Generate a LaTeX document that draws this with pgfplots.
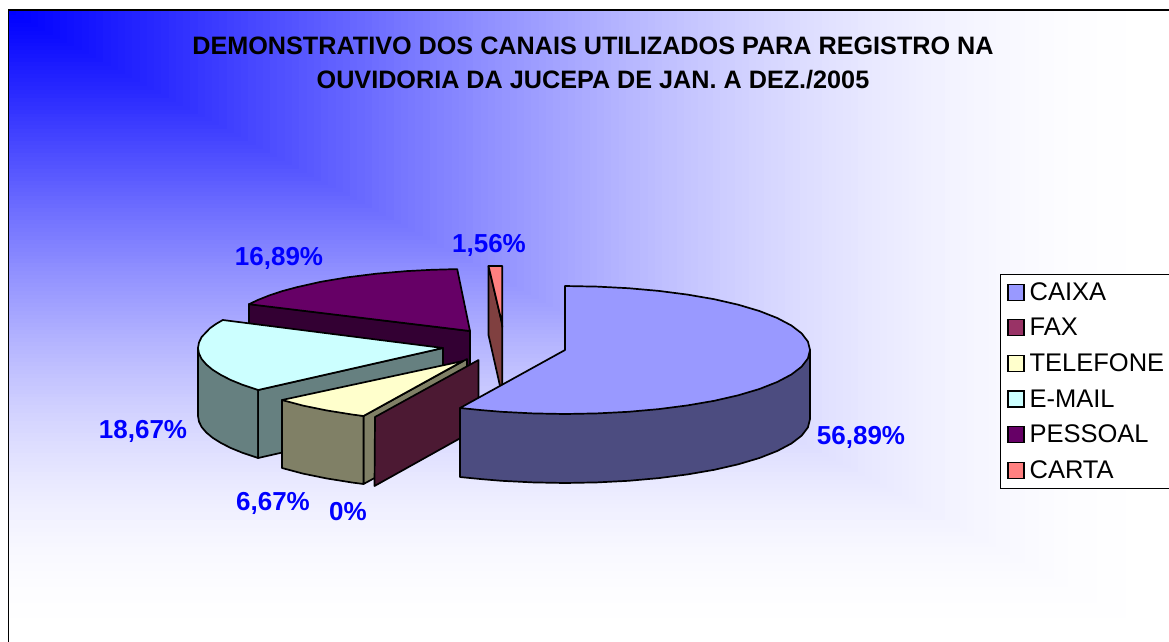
\documentclass[border=0pt]{standalone}
\usepackage{pgfplots}
\usepackage{fontspec}
\setmainfont{Liberation Sans}
\pgfplotsset{compat=1.18}

\definecolor{caixa}{RGB}{153,153,255}
\definecolor{caixaw}{RGB}{76,76,128}
\definecolor{fax}{RGB}{153,51,102}
\definecolor{faxw}{RGB}{76,25,51}
\definecolor{tel}{RGB}{255,255,204}
\definecolor{telw}{RGB}{128,128,102}
\definecolor{mail}{RGB}{204,255,255}
\definecolor{mailw}{RGB}{102,128,128}
\definecolor{pess}{RGB}{102,0,102}
\definecolor{pessw}{RGB}{51,0,51}
\definecolor{carta}{RGB}{255,128,128}
\definecolor{cartaw}{RGB}{128,64,64}
\definecolor{lblue}{RGB}{0,0,255}

\pgfplotsset{
  slice/.style={draw=black, line width=1.7pt, line join=round, fill=#1, forget plot},
}
\tikzset{
  lbl/.style={text=lblue, font=\fontsize{26}{30}\bfseries\selectfont},
}

\begin{document}
\begin{tikzpicture}[x=1pt,y=1pt]
\clip (0,0) rectangle (1169,641);
\fill[white] (0,0) rectangle (1169,641);
% corner gradient of the chart area, painted from the outside in
\foreach \i in {160,159,...,0}{
  \pgfmathsetmacro{\t}{\i/160}
  \pgfmathsetmacro{\v}{100*(max(sin(90*\t),0.0001))^1.15}
  \fill[white!\v!lblue] (9,630) rectangle ({9+1161*\t},{630-631*\t});
}
\draw[black, line width=1.5pt] (8.5,-5) -- (8.5,631) -- (1175,631);

\begin{axis}[
  at={(0,0)}, anchor=south west,
  scale only axis, width=1169pt, height=641pt,
  xmin=0, xmax=1169, ymin=0, ymax=641, y dir=reverse,
  hide axis, clip=false,
  legend style={
    at={(axis cs:1000,273.7)}, anchor=north west,
    draw=black, fill=white, line width=0.8pt,
    inner xsep=7pt, inner ysep=0.3pt,
    font=\fontsize{25.5}{28}\selectfont,
    row sep=0pt, column sep=2pt,
    cells={anchor=west},
    nodes={minimum height=35.6pt, inner ysep=0pt, inner xsep=3pt},
  },
  legend image code/.code={
    \draw[line width=1.2pt, #1] (0pt,-8pt) rectangle (16pt,8pt);
  },
]
% PESSOAL
\addplot[slice=pessw] coordinates {(249,304) (249,372) (470,399) (470,331)} --cycle;
\addplot[slice=pess] coordinates {(470,331) (457.2,269.1) (431.7,269.8) (406.6,271.1) (376.2,273.7) (347.5,277.3) (320.8,281.8) (296.8,287.2) (282.3,291.1) (269.3,295.4) (257.8,300) (249,304.2)} --cycle;
% CARTA
\addplot[slice=cartaw] coordinates {(488.5,266) (501.7,322) (502.3,327) (502.3,386) (500,386) (488.5,335)} --cycle;
\addplot[slice=carta] coordinates {(488.5,266) (502.3,266) (502.3,327) (501.7,322)} --cycle;
% E-MAIL
\addplot[slice=mailw] coordinates {(198,348) (198,416) (199,421.6) (201.7,427.1) (206.4,432.6) (212.8,437.9) (221,443) (230.8,448) (242.3,452.7) (258.1,458) (258.1,390)} --cycle;
\addplot[slice=mailw] coordinates {(258.1,390) (258.1,458) (443,416) (443,348)} --cycle;
\addplot[slice=mail] coordinates {(443,348) (222.8,320) (215.9,324) (210,328.2) (201.7,336.9) (199,342.4) (198,348) (199,353.6) (201.7,359.1) (206.4,364.6) (212.8,369.9) (221,375) (230.8,380) (242.3,384.7) (258.1,390)} --cycle;
% TELEFONE
\addplot[slice=telw] coordinates {(363.5,416) (467,359) (467,428) (363.5,484)} --cycle;
\addplot[slice=telw] coordinates {(282,400) (282,468) (303,473.6) (326.5,478.4) (352,482.5) (363.5,484) (363.5,416)} --cycle;
\addplot[slice=tel] coordinates {(463,361) (282,400) (303,405.6) (326.5,410.4) (352,414.5) (363.5,416)} --cycle;
% FAX
\addplot[slice=faxw] coordinates {(375,417) (478.5,360) (478.5,428) (374.5,486)} --cycle;
% CAIXA
\addplot[slice=caixaw] coordinates {(810,350) (810,419) (807.9,427.4) (801.7,435.6) (791.4,443.5) (777.2,451) (759.4,458) (738.2,464.3) (714.2,469.8) (687.5,474.4) (658.8,478.1) (628.4,480.8) (597,482.4) (565,483) (533,482.4) (501.6,480.8) (481.2,479.1) (460,477) (460,408)} --cycle;
\addplot[slice=caixa] coordinates {(565,350) (565,286) (597,286.6) (628.4,288.2) (658.8,290.9) (687.5,294.6) (714.2,299.2) (738.2,304.7) (759.4,311) (777.2,318) (791.4,325.5) (801.7,333.4) (807.9,341.6) (810,350) (807.9,358.4) (801.7,366.6) (791.4,374.5) (777.2,382) (759.4,389) (738.2,395.3) (714.2,400.8) (687.5,405.4) (658.8,409.1) (628.4,411.8) (597,413.4) (565,414) (533,413.4) (501.6,411.8) (481.2,410.1) (460,408)} --cycle;

\addlegendimage{fill=caixa}\addlegendentry{CAIXA}
\addlegendimage{fill=fax}\addlegendentry{FAX}
\addlegendimage{fill=tel}\addlegendentry{TELEFONE}
\addlegendimage{fill=mail}\addlegendentry{E-MAIL}
\addlegendimage{fill=pess}\addlegendentry{PESSOAL}
\addlegendimage{fill=carta}\addlegendentry{CARTA}

\node[align=center, font=\fontsize{25.2}{34}\bfseries\selectfont] at (axis cs:593,63)
  {DEMONSTRATIVO DOS CANAIS UTILIZADOS PARA REGISTRO NA\\OUVIDORIA DA JUCEPA DE JAN. A DEZ./2005};
\node[lbl] at (axis cs:279,258) {16,89\%};
\node[lbl] at (axis cs:489,245) {1,56\%};
\node[lbl] at (axis cs:143,431) {18,67\%};
\node[lbl] at (axis cs:273,503) {6,67\%};
\node[lbl] at (axis cs:348,512) {0\%};
\node[lbl] at (axis cs:861,437) {56,89\%};
\end{axis}
\end{tikzpicture}
\end{document}
